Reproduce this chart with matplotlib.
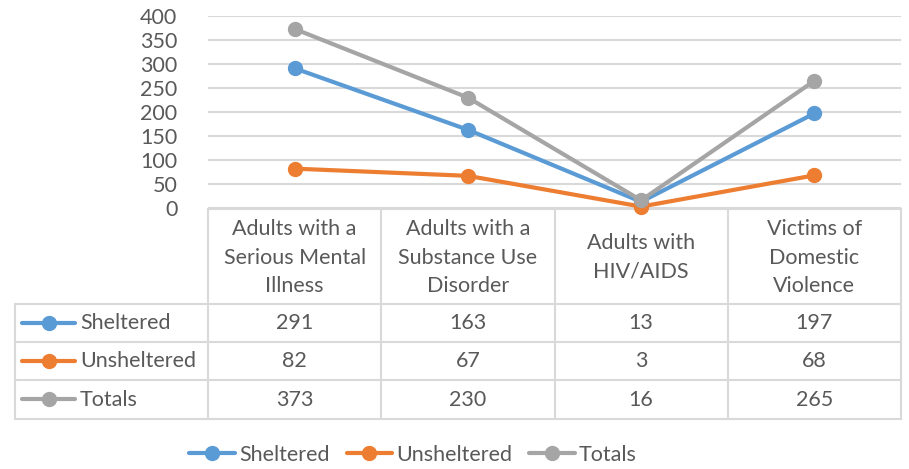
import matplotlib.pyplot as plt
from matplotlib.lines import Line2D

plt.rcParams['font.family'] = ['Lato', 'DejaVu Sans']

categories = ['Adults with a\nSerious Mental\nIllness',
              'Adults with a\nSubstance Use\nDisorder',
              'Adults with\nHIV/AIDS',
              'Victims of\nDomestic\nViolence']
series_names = ['Sheltered', 'Unsheltered', 'Totals']
sheltered = [291, 163, 13, 197]
unsheltered = [82, 67, 3, 68]
totals = [373, 230, 16, 265]
yticks = [0, 50, 100, 150, 200, 250, 300, 350, 400]

colors = ['#5B9BD5', '#ED7D31', '#A5A5A5']
text_c = '#595959'
grid_c = '#D9D9D9'
W, H = 909, 469
fs = 15.5

fig = plt.figure(figsize=(W / 100, H / 100), dpi=100)

# plot area in pixels
px_l, px_r, px_top, px_bot = 208, 901, 16, 208
ax = fig.add_axes([px_l / W, 1 - px_bot / H, (px_r - px_l) / W, (px_bot - px_top) / H])
x = list(range(len(categories)))
for vals, name, c in zip([sheltered, unsheltered, totals], series_names, colors):
    ax.plot(x, vals, color=c, lw=3, marker='o', ms=10, label=name,
            solid_capstyle='round', zorder=3, clip_on=False)
ax.set_xlim(-0.5, len(categories) - 0.5)
ax.set_ylim(0, 400)
ax.set_yticks(yticks)
ax.set_xticks([])
ax.tick_params(axis='y', length=0, pad=22, labelsize=fs, labelcolor=text_c)
ax.grid(axis='y', color=grid_c, lw=1.5)
for s in ax.spines.values():
    s.set_visible(False)

# data table drawn in pixel coords
tb = fig.add_axes([0, 0, 1, 1], zorder=-1)
tb.set_xlim(0, W)
tb.set_ylim(H, 0)
tb.axis('off')
col_w = (px_r - px_l) / len(categories)
edges = [px_l + i * col_w for i in range(len(categories) + 1)]
t_left = 15
rows_y = [209, 304, 342, 380, 419]
lw_t = 1.5
tb.plot([px_l, px_r], [rows_y[0], rows_y[0]], color=grid_c, lw=lw_t)
for yy in rows_y[1:]:
    tb.plot([t_left, px_r], [yy, yy], color=grid_c, lw=lw_t)
for xx in edges:
    tb.plot([xx, xx], [rows_y[0], rows_y[-1]], color=grid_c, lw=lw_t)
tb.plot([t_left, t_left], [rows_y[1], rows_y[-1]], color=grid_c, lw=lw_t)

for i, cat in enumerate(categories):
    cx = (edges[i] + edges[i + 1]) / 2
    tb.text(cx, (rows_y[0] + rows_y[1]) / 2 + 1, cat, ha='center', va='center',
            fontsize=fs, color=text_c, linespacing=1.55)
for r, (vals, name, c) in enumerate(zip([sheltered, unsheltered, totals], series_names, colors)):
    cy = (rows_y[r + 1] + rows_y[r + 2]) / 2
    tb.plot([22, 75], [cy, cy], color=c, lw=3, solid_capstyle='round')
    tb.plot([49], [cy], 'o', color=c, ms=10)
    tb.text(80, cy, name, ha='left', va='center', fontsize=fs, color=text_c)
    for i, v in enumerate(vals):
        cx = (edges[i] + edges[i + 1]) / 2
        tb.text(cx, cy, str(v), ha='center', va='center', fontsize=fs, color=text_c)

handles = [Line2D([], [], color=c, lw=3, marker='o', ms=10, solid_capstyle='round')
           for c in colors]
leg = fig.legend(handles, series_names, loc='center', bbox_to_anchor=(413 / W, 1 - 455 / H),
                 ncol=3, frameon=False, fontsize=fs, handlelength=2.1,
                 handletextpad=0.2, columnspacing=0.8, labelcolor=text_c)

fig.savefig('out.png', dpi=100)
